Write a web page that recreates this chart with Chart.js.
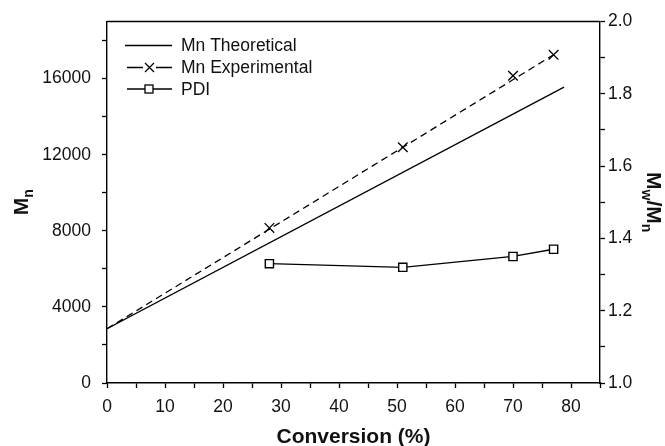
<!DOCTYPE html>
<html>
<head>
<meta charset="utf-8">
<script src="https://cdn.jsdelivr.net/npm/chart.js@4/dist/chart.umd.min.js"></script>
<style>
  html, body { margin: 0; padding: 0; background: #fff; }
  #wrap { width: 665px; height: 446px; position: relative; }
</style>
</head>
<body>
<div id="wrap"><canvas id="chart"></canvas></div>
<script>
// theoretical Mn line (end points)
const theoX = [0, 78.8];
const theoY = [2850, 15550];

// experimental Mn: dashed trend line + measured points
const expFitX = [0, 77];
const expFitY = [2850, 17250];
const expX = [28, 51, 70, 77];
const expY = [8150, 12390, 16150, 17250];

// PDI on the right axis
const pdiX = [28, 51, 70, 77];
const pdiY = [1.33, 1.32, 1.35, 1.37];

const legendLabels = ["Mn Theoretical", "Mn Experimental", "PDI"];

// tick positions (labelled + minor)
const xTicks = [0, 5, 10, 15, 20, 25, 30, 35, 40, 45, 50, 55, 60, 65, 70, 75, 80, 85];
const xLabels = [0, 10, 20, 30, 40, 50, 60, 70, 80];
const yTicks = [0, 2000, 4000, 6000, 8000, 10000, 12000, 14000, 16000, 18000];
const yLabels = [0, 4000, 8000, 12000, 16000];
const y1Ticks = [1.0, 1.1, 1.2, 1.3, 1.4, 1.5, 1.6, 1.7, 1.8, 1.9, 2.0];
const y1Labels = ["1.0", "1.2", "1.4", "1.6", "1.8", "2.0"];

const FONT = "'Liberation Sans', Arial, sans-serif";
Chart.defaults.font.family = FONT;
Chart.defaults.color = "#111";

const pts = (xs, ys) => xs.map((x, i) => ({ x, y: ys[i] }));
const setTicks = (vals) => (s) => { s.ticks = vals.map((v) => ({ value: v })); };

// frame top line + axis titles with subscripts + legend
const decorPlugin = {
  id: "decor",
  afterDraw(chart) {
    const { ctx, chartArea: a } = chart;
    ctx.save();
    ctx.strokeStyle = "#000";
    ctx.lineWidth = 1.4;
    ctx.beginPath();
    ctx.moveTo(a.left, a.top);
    ctx.lineTo(a.right, a.top);
    ctx.stroke();

    ctx.fillStyle = "#111";
    ctx.textBaseline = "alphabetic";
    const big = `bold 21px ${FONT}`;
    const small = `bold 14px ${FONT}`;

    const drawParts = (parts) => {
      let w = 0;
      parts.forEach((p) => {
        ctx.font = p.sub ? small : big;
        p.w = ctx.measureText(p.t).width;
        w += p.w;
      });
      let x = -w / 2;
      parts.forEach((p) => {
        ctx.font = p.sub ? small : big;
        ctx.fillText(p.t, x, p.sub ? 5 : 0);
        x += p.w;
      });
    };

    // x title
    ctx.font = big;
    ctx.textAlign = "center";
    ctx.fillText("Conversion (%)", (a.left + a.right) / 2, 443);
    ctx.textAlign = "left";

    const midY = (a.top + a.bottom) / 2;
    // left title
    ctx.save();
    ctx.translate(28, midY);
    ctx.rotate(-Math.PI / 2);
    drawParts([{ t: "M" }, { t: "n", sub: true }]);
    ctx.restore();

    // right title
    ctx.save();
    ctx.translate(647, midY);
    ctx.rotate(Math.PI / 2);
    drawParts([
      { t: "M" }, { t: "w", sub: true }, { t: "/" },
      { t: "M" }, { t: "n", sub: true },
    ]);
    ctx.restore();

    // legend
    const rows = [45.5, 67.5, 89];
    ctx.lineWidth = 1.3;
    ctx.strokeStyle = "#000";
    rows.forEach((y, i) => {
      ctx.beginPath();
      ctx.moveTo(i === 0 ? 125 : 127, y);
      ctx.lineTo(172, y);
      ctx.stroke();
      if (i === 1) {
        ctx.fillStyle = "#fff";
        ctx.fillRect(143, y - 5, 13, 10);
        ctx.beginPath();
        ctx.moveTo(145, y - 4.5); ctx.lineTo(154, y + 4.5);
        ctx.moveTo(154, y - 4.5); ctx.lineTo(145, y + 4.5);
        ctx.stroke();
      }
      if (i === 2) {
        ctx.fillStyle = "#fff";
        ctx.fillRect(145, y - 4, 8, 8);
        ctx.strokeRect(145, y - 4, 8, 8);
      }
      ctx.fillStyle = "#111";
      ctx.font = `17.5px ${FONT}`;
      ctx.textBaseline = "middle";
      ctx.fillText(legendLabels[i], 181, y + 1);
    });
    ctx.restore();
  },
};

const tickFont = { size: 17.5, family: FONT };

new Chart(document.getElementById("chart"), {
  type: "scatter",
  data: {
    datasets: [
      {
        label: legendLabels[0],
        data: pts(theoX, theoY),
        showLine: true,
        borderColor: "#000",
        borderWidth: 1.3,
        pointRadius: 0,
        yAxisID: "y",
      },
      {
        label: "fit",
        data: pts(expFitX, expFitY),
        showLine: true,
        borderColor: "#000",
        borderWidth: 1.3,
        borderDash: [7, 4.5],
        pointRadius: 0,
        yAxisID: "y",
      },
      {
        label: legendLabels[1],
        data: pts(expX, expY),
        showLine: false,
        pointStyle: "crossRot",
        pointRadius: 6.8,
        pointBorderWidth: 1.3,
        borderColor: "#000",
        backgroundColor: "#000",
        yAxisID: "y",
      },
      {
        label: legendLabels[2],
        data: pts(pdiX, pdiY),
        showLine: true,
        borderColor: "#000",
        borderWidth: 1.3,
        pointStyle: "rect",
        pointRadius: 5.8,
        pointBorderWidth: 1.4,
        pointBackgroundColor: "#fff",
        pointBorderColor: "#000",
        yAxisID: "y1",
      },
    ],
  },
  options: {
    responsive: true,
    maintainAspectRatio: false,
    animation: false,
    layout: { padding: { top: 21, right: 0, bottom: 0, left: 0 } },
    plugins: { legend: { display: false }, tooltip: { enabled: false } },
    scales: {
      x: {
        type: "linear",
        min: 0,
        max: 85,
        afterBuildTicks: setTicks(xTicks),
        afterFit: (s) => { s.height = 63; },
        border: { display: true, color: "#000", width: 1.4 },
        grid: { drawOnChartArea: false, drawTicks: true, tickLength: 5, tickColor: "#000", tickWidth: 1.3 },
        ticks: {
          autoSkip: false,
          maxRotation: 0,
          padding: 9,
          font: tickFont,
          color: "#111",
          callback: (v) => (xLabels.includes(v) ? String(v) : ""),
        },
      },
      y: {
        position: "left",
        min: 0,
        max: 19000,
        afterBuildTicks: setTicks(yTicks),
        afterFit: (s) => { s.width = 107; },
        border: { display: true, color: "#000", width: 1.4 },
        grid: { drawOnChartArea: false, tickLength: 5, tickWidth: 1.3, tickColor: "#000" },
        ticks: {
          autoSkip: false,
          padding: 11,
          font: tickFont,
          color: "#111",
          callback: (v) => (yLabels.includes(v) ? String(v) : ""),
        },
      },
      y1: {
        position: "right",
        min: 1,
        max: 2,
        afterBuildTicks: setTicks(y1Ticks),
        afterFit: (s) => { s.width = 65; },
        border: { display: true, color: "#000", width: 1.4 },
        grid: { drawOnChartArea: false, tickLength: 5, tickWidth: 1.3, tickColor: "#000" },
        ticks: {
          autoSkip: false,
          padding: 3,
          font: tickFont,
          color: "#111",
          callback: (v) => {
            const t = v.toFixed(1);
            return y1Labels.includes(t) ? t : "";
          },
        },
      },
    },
  },
  plugins: [decorPlugin],
});
</script>
</body>
</html>
